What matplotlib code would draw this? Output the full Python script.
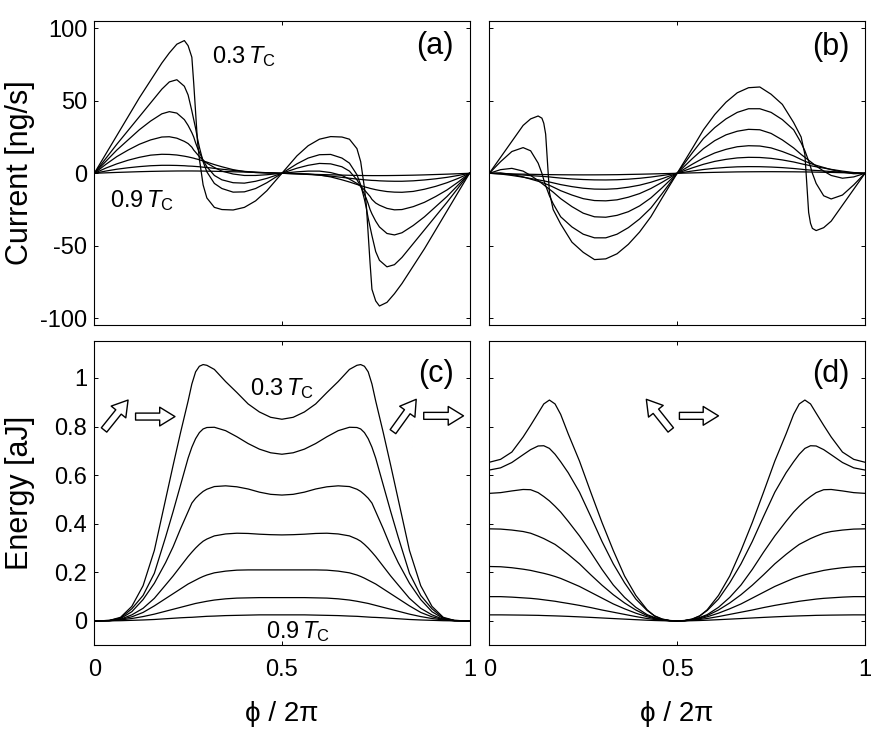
import matplotlib
matplotlib.use('Agg')
import matplotlib.pyplot as plt

# ---------------- data ----------------
# temperatures of the 7 curves in every panel (T / Tc)
temps = [0.3, 0.4, 0.5, 0.6, 0.7, 0.8, 0.9]

# (a) current, first set
phi_a = [0, .03, .06, .09, .12, .15, .18, .2, .22, .24, .25, .26, .265, .27, .275, .28, .29, .3, .32, .34, .37, .4, .43, .46, .5,
         .54, .57, .6, .63, .66, .68, .7, .71, .72, .725, .73, .735, .74, .75, .76, .78, .8, .82, .85, .88, .91, .94, .97, 1]
cur_a_03 = [0, 13, 26, 39, 52, 64, 76, 83, 89, 91.5, 88, 80, 62, 42, 22, 10, -8, -17, -23.5, -25, -25.3, -23.5, -19, -12, 0,
            12, 19, 23.5, 25.3, 25, 23.5, 17, 8, -10, -22, -42, -62, -80, -88, -91.5, -89, -83, -76, -64, -52, -39, -26, -13, 0]
cur_a_04 = [0, 10, 20, 29.5, 39, 48.5, 58, 63, 64.5, 60, 54, 43, 37, 31, 24, 18, 8, 1, -7, -10.5, -13, -12.8, -10.5, -6.5, 0,
            6.5, 10.5, 12.8, 13, 10.5, 7, -1, -8, -18, -24, -31, -37, -43, -54, -60, -64.5, -63, -58, -48.5, -39, -29.5, -20, -10, 0]
cur_a_05 = [0, 8, 16, 23, 30, 36, 41, 42.5, 41.5, 37, 33, 28, 25, 21, 17.5, 14.5, 9, 4.5, -1.5, -4.5, -6.5, -6.8, -5.5, -3.5, 0,
            3.5, 5.5, 6.8, 6.5, 4.5, 1.5, -4.5, -9, -14.5, -17.5, -21, -25, -28, -33, -37, -41.5, -42.5, -41, -36, -30, -23, -16, -8, 0]
cur_a_06 = [0, 6, 11.5, 16, 20, 23, 25, 25.2, 24.2, 22, 20.5, 18, 16, 14.5, 13, 11.5, 9, 7, 4, 1.5, -0.5, -1.5, -1.5, -1, 0,
            1, 1.5, 1.5, 0.5, -1.5, -4, -7, -9, -11.5, -13, -14.5, -16, -18, -20.5, -22, -24.2, -25.2, -25, -23, -20, -16, -11.5, -6, 0]
cur_a_07 = [0, 3.5, 6.5, 9, 11, 12.5, 13.1, 13, 12.6, 11.8, 11.3, 10.7, 10.4, 10, 9.7, 9.3, 8.5, 7.7, 6, 4.5, 2.5, 1.2, 0.5, 0.2, 0,
            -0.2, -0.5, -1.2, -2.5, -4.5, -6, -7.7, -8.5, -9.3, -9.7, -10, -10.4, -10.7, -11.3, -11.8, -12.6, -13, -13.1, -12.5, -11, -9, -6.5, -3.5, 0]
cur_a_08 = [0, 1.5, 2.8, 3.8, 4.6, 5.2, 5.5, 5.5, 5.4, 5.2, 5.0, 4.9, 4.8, 4.7, 4.6, 4.5, 4.2, 4.0, 3.4, 2.8, 2.0, 1.3, 0.8, 0.4, 0,
            -0.4, -0.8, -1.3, -2.0, -2.8, -3.4, -4.0, -4.2, -4.5, -4.6, -4.7, -4.8, -4.9, -5.0, -5.2, -5.4, -5.5, -5.5, -5.2, -4.6, -3.8, -2.8, -1.5, 0]
cur_a_09 = [0, 0.3, 0.6, 0.85, 1.1, 1.3, 1.45, 1.52, 1.58, 1.6, 1.6, 1.6, 1.59, 1.58, 1.57, 1.55, 1.52, 1.48, 1.38, 1.25, 1.05, 0.85, 0.6, 0.35, 0,
            -0.35, -0.6, -0.85, -1.05, -1.25, -1.38, -1.48, -1.52, -1.55, -1.57, -1.58, -1.59, -1.6, -1.6, -1.6, -1.58, -1.52, -1.45, -1.3, -1.1, -0.85, -0.6, -0.3, 0]

# (b) current, second set
phi_b = [0, .03, .06, .09, .11, .13, .14, .145, .15, .155, .16, .17, .19, .22, .25, .28, .31, .34, .37, .4, .43, .46, .5,
         .54, .57, .6, .63, .66, .69, .72, .75, .78, .81, .83, .84, .845, .85, .855, .86, .87, .89, .91, .94, .97, 1]
cur_b_03 = [0, 11, 22, 33, 37.5, 39.5, 38, 34.5, 27, 7, -13, -25, -35, -47.5, -54.5, -59.5, -59, -55.5, -49, -40.5, -30, -17, 0,
            17, 30, 40.5, 49, 55.5, 59, 59.5, 54.5, 47.5, 35, 25, 13, -7, -27, -34.5, -38, -39.5, -37.5, -33, -22, -11, 0]
cur_b_04 = [0, 8, 15, 17.7, 15.5, 7, 0, -4.5, -8.5, -12, -15.5, -21, -30, -37, -42, -44.5, -44.5, -42, -37.5, -31.5, -24, -14, 0,
            14, 24, 31.5, 37.5, 42, 44.5, 44.5, 42, 37, 30, 21, 15.5, 12, 8.5, 4.5, 0, -7, -15.5, -17.7, -15, -8, 0]
cur_b_05 = [0, 2.5, 3.4, 1.5, -1.5, -5, -7, -8, -9, -10, -11, -13, -17.5, -23, -27.5, -30, -30.3, -29, -26.5, -22.5, -17, -10, 0,
            10, 17, 22.5, 26.5, 29, 30.3, 30, 27.5, 23, 17.5, 13, 11, 10, 9, 8, 7, 5, 1.5, -1.5, -3.4, -2.5, 0]
cur_b_06 = [0, 0.3, -0.8, -2.5, -4, -5.5, -6.3, -6.8, -7.3, -7.8, -8.3, -9.5, -12, -15, -17.5, -18.8, -19, -18.3, -16.5, -14, -10.5, -6.2, 0,
            6.2, 10.5, 14, 16.5, 18.3, 19, 18.8, 17.5, 15, 12, 9.5, 8.3, 7.8, 7.3, 6.8, 6.3, 5.5, 4, 2.5, 0.8, -0.3, 0]
cur_b_07 = [0, -0.5, -1.5, -2.7, -3.6, -4.5, -5, -5.2, -5.5, -5.8, -6, -6.6, -7.8, -9.2, -10.3, -10.9, -11, -10.6, -9.6, -8.2, -6.2, -3.7, 0,
            3.7, 6.2, 8.2, 9.6, 10.6, 11, 10.9, 10.3, 9.2, 7.8, 6.6, 6, 5.8, 5.5, 5.2, 5, 4.5, 3.6, 2.7, 1.5, 0.5, 0]
cur_b_08 = [0, -0.3, -0.8, -1.2, -1.6, -1.95, -2.1, -2.2, -2.3, -2.4, -2.5, -2.8, -3.3, -3.9, -4.3, -4.55, -4.6, -4.45, -4.05, -3.45, -2.6, -1.55, 0,
            1.55, 2.6, 3.45, 4.05, 4.45, 4.6, 4.55, 4.3, 3.9, 3.3, 2.8, 2.5, 2.4, 2.3, 2.2, 2.1, 1.95, 1.6, 1.2, 0.8, 0.3, 0]
cur_b_09 = [0, -0.2, -0.4, -0.6, -0.7, -0.8, -0.85, -0.87, -0.89, -0.91, -0.93, -0.96, -1.02, -1.07, -1.1, -1.08, -1.03, -0.96, -0.8, -0.65, -0.47, -0.27, 0,
            0.27, 0.47, 0.65, 0.8, 0.96, 1.03, 1.08, 1.1, 1.07, 1.02, 0.96, 0.93, 0.91, 0.89, 0.87, 0.85, 0.8, 0.7, 0.6, 0.4, 0.2, 0]

# (c) energy, first set
phi_c = [0, .04, .07, .1, .13, .16, .19, .21, .23, .25, .26, .27, .28, .29, .3, .32, .35, .38, .41, .44, .47, .5,
         .53, .56, .59, .62, .65, .68, .7, .71, .72, .73, .74, .75, .77, .79, .81, .84, .87, .9, .93, .96, 1]
en_c_03 = [0, 0.002, 0.015, 0.06, 0.145, 0.29, 0.5, 0.64, 0.776, 0.905, 0.975, 1.025, 1.048, 1.055, 1.052, 1.035, 0.985, 0.94, 0.893, 0.86, 0.838, 0.83,
           0.838, 0.86, 0.893, 0.94, 0.985, 1.035, 1.052, 1.055, 1.048, 1.025, 0.975, 0.905, 0.776, 0.64, 0.5, 0.29, 0.145, 0.06, 0.015, 0.002, 0]
en_c_04 = [0, 0.002, 0.012, 0.05, 0.105, 0.196, 0.345, 0.45, 0.56, 0.67, 0.715, 0.75, 0.775, 0.79, 0.796, 0.797, 0.783, 0.758, 0.73, 0.707, 0.692, 0.686,
           0.692, 0.707, 0.73, 0.758, 0.783, 0.797, 0.796, 0.79, 0.775, 0.75, 0.715, 0.67, 0.56, 0.45, 0.345, 0.196, 0.105, 0.05, 0.012, 0.002, 0]
en_c_05 = [0, 0.002, 0.01, 0.038, 0.088, 0.155, 0.24, 0.305, 0.38, 0.45, 0.485, 0.505, 0.52, 0.533, 0.542, 0.553, 0.556, 0.552, 0.543, 0.53, 0.521, 0.518,
           0.521, 0.53, 0.543, 0.552, 0.556, 0.553, 0.542, 0.533, 0.52, 0.505, 0.485, 0.45, 0.38, 0.305, 0.24, 0.155, 0.088, 0.038, 0.01, 0.002, 0]
en_c_06 = [0, 0.001, 0.007, 0.025, 0.052, 0.093, 0.148, 0.185, 0.225, 0.265, 0.283, 0.3, 0.315, 0.328, 0.337, 0.35, 0.358, 0.361, 0.36, 0.357, 0.355, 0.354,
           0.355, 0.357, 0.36, 0.361, 0.358, 0.35, 0.337, 0.328, 0.315, 0.3, 0.283, 0.265, 0.225, 0.185, 0.148, 0.093, 0.052, 0.025, 0.007, 0.001, 0]
en_c_07 = [0, 0.001, 0.006, 0.017, 0.035, 0.062, 0.092, 0.112, 0.132, 0.152, 0.16, 0.168, 0.176, 0.183, 0.189, 0.198, 0.205, 0.209, 0.21, 0.21, 0.21, 0.21,
           0.21, 0.21, 0.21, 0.209, 0.205, 0.198, 0.189, 0.183, 0.176, 0.168, 0.16, 0.152, 0.132, 0.112, 0.092, 0.062, 0.035, 0.017, 0.006, 0.001, 0]
en_c_08 = [0, 0.001, 0.004, 0.01, 0.018, 0.028, 0.04, 0.048, 0.056, 0.064, 0.068, 0.072, 0.075, 0.078, 0.081, 0.086, 0.091, 0.094, 0.095, 0.096, 0.096, 0.096,
           0.096, 0.096, 0.095, 0.094, 0.091, 0.086, 0.081, 0.078, 0.075, 0.072, 0.068, 0.064, 0.056, 0.048, 0.04, 0.028, 0.018, 0.01, 0.004, 0.001, 0]
en_c_09 = [0, 0.0004, 0.001, 0.0025, 0.004, 0.006, 0.009, 0.011, 0.013, 0.0145, 0.015, 0.016, 0.017, 0.018, 0.019, 0.02, 0.022, 0.023, 0.024, 0.025, 0.025, 0.025,
           0.025, 0.025, 0.024, 0.023, 0.022, 0.02, 0.019, 0.018, 0.017, 0.016, 0.015, 0.0145, 0.013, 0.011, 0.009, 0.006, 0.004, 0.0025, 0.001, 0.0004, 0]

# (d) energy, second set
phi_d = [0, .03, .06, .09, .11, .13, .145, .16, .175, .19, .21, .24, .27, .3, .33, .36, .39, .42, .44, .46, .48, .5,
         .52, .54, .56, .58, .61, .64, .67, .7, .73, .76, .79, .81, .825, .84, .855, .87, .89, .91, .94, .97, 1]
en_d_03 = [0.653, 0.665, 0.695, 0.757, 0.805, 0.855, 0.893, 0.909, 0.893, 0.85, 0.77, 0.658, 0.53, 0.405, 0.29, 0.185, 0.105, 0.046, 0.02, 0.007, 0.001, 0,
           0.001, 0.007, 0.02, 0.046, 0.105, 0.185, 0.29, 0.405, 0.53, 0.658, 0.77, 0.85, 0.893, 0.909, 0.893, 0.855, 0.805, 0.757, 0.695, 0.665, 0.653]
en_d_04 = [0.621, 0.63, 0.652, 0.684, 0.705, 0.72, 0.721, 0.71, 0.686, 0.655, 0.61, 0.53, 0.43, 0.327, 0.235, 0.157, 0.09, 0.043, 0.021, 0.008, 0.002, 0,
           0.002, 0.008, 0.021, 0.043, 0.09, 0.157, 0.235, 0.327, 0.43, 0.53, 0.61, 0.655, 0.686, 0.71, 0.721, 0.72, 0.705, 0.684, 0.652, 0.63, 0.621]
en_d_05 = [0.525, 0.528, 0.535, 0.541, 0.54, 0.528, 0.512, 0.494, 0.472, 0.448, 0.41, 0.35, 0.283, 0.212, 0.148, 0.097, 0.056, 0.026, 0.014, 0.006, 0.0015, 0,
           0.0015, 0.006, 0.014, 0.026, 0.056, 0.097, 0.148, 0.212, 0.283, 0.35, 0.41, 0.448, 0.472, 0.494, 0.512, 0.528, 0.54, 0.541, 0.535, 0.528, 0.525]
en_d_06 = [0.379, 0.378, 0.374, 0.368, 0.361, 0.349, 0.339, 0.327, 0.315, 0.298, 0.274, 0.235, 0.19, 0.147, 0.108, 0.074, 0.045, 0.022, 0.012, 0.005, 0.0012, 0,
           0.0012, 0.005, 0.012, 0.022, 0.045, 0.074, 0.108, 0.147, 0.19, 0.235, 0.274, 0.298, 0.315, 0.327, 0.339, 0.349, 0.361, 0.368, 0.374, 0.378, 0.379]
en_d_07 = [0.224, 0.223, 0.219, 0.213, 0.208, 0.201, 0.196, 0.19, 0.183, 0.175, 0.162, 0.142, 0.118, 0.094, 0.07, 0.05, 0.032, 0.017, 0.009, 0.004, 0.001, 0,
           0.001, 0.004, 0.009, 0.017, 0.032, 0.05, 0.07, 0.094, 0.118, 0.142, 0.162, 0.175, 0.183, 0.19, 0.196, 0.201, 0.208, 0.213, 0.219, 0.223, 0.224]
en_d_08 = [0.1, 0.1, 0.098, 0.095, 0.093, 0.09, 0.087, 0.084, 0.081, 0.077, 0.072, 0.064, 0.055, 0.045, 0.036, 0.027, 0.018, 0.01, 0.006, 0.003, 0.001, 0,
           0.001, 0.003, 0.006, 0.01, 0.018, 0.027, 0.036, 0.045, 0.055, 0.064, 0.072, 0.077, 0.081, 0.084, 0.087, 0.09, 0.093, 0.095, 0.098, 0.1, 0.1]
en_d_09 = [0.025, 0.025, 0.0245, 0.024, 0.0235, 0.023, 0.0222, 0.0215, 0.0208, 0.02, 0.0188, 0.0168, 0.0146, 0.0122, 0.0098, 0.0075, 0.0052, 0.003, 0.0018, 0.0009, 0.0002, 0,
           0.0002, 0.0009, 0.0018, 0.003, 0.0052, 0.0075, 0.0098, 0.0122, 0.0146, 0.0168, 0.0188, 0.02, 0.0208, 0.0215, 0.0222, 0.023, 0.0235, 0.024, 0.0245, 0.025, 0.025]

curves_a = [cur_a_03, cur_a_04, cur_a_05, cur_a_06, cur_a_07, cur_a_08, cur_a_09]
curves_b = [cur_b_03, cur_b_04, cur_b_05, cur_b_06, cur_b_07, cur_b_08, cur_b_09]
curves_c = [en_c_03, en_c_04, en_c_05, en_c_06, en_c_07, en_c_08, en_c_09]
curves_d = [en_d_03, en_d_04, en_d_05, en_d_06, en_d_07, en_d_08, en_d_09]

# ---------------- style ----------------
plt.rcParams['font.family'] = ['Liberation Sans', 'DejaVu Sans']
plt.rcParams['mathtext.fontset'] = 'custom'
plt.rcParams['mathtext.rm'] = 'Liberation Sans'
plt.rcParams['mathtext.it'] = 'Liberation Sans:italic'
plt.rcParams['axes.unicode_minus'] = False

W, H = 879, 740
fig = plt.figure(figsize=(W / 100, H / 100), dpi=100)


def box(left, top, right, bottom):
    # pixel box -> figure fraction
    return [left / W, 1 - bottom / H, (right - left) / W, (bottom - top) / H]


ax_a = fig.add_axes(box(94.3, 20.7, 469.5, 325))
ax_b = fig.add_axes(box(489.3, 20.7, 865, 325))
ax_c = fig.add_axes(box(94.3, 341, 469.5, 645))
ax_d = fig.add_axes(box(489.3, 341, 865, 645))

for ax, xs, curves in [(ax_a, phi_a, curves_a), (ax_b, phi_b, curves_b),
                       (ax_c, phi_c, curves_c), (ax_d, phi_d, curves_d)]:
    for ys in curves:
        ax.plot(xs, ys, color='black', lw=0.9)
    ax.set_xlim(0, 1)
    ax.set_xticks([0, 0.5, 1])
    for s in ax.spines.values():
        s.set_linewidth(0.8)
    ax.tick_params(direction='in', top=True, right=True, length=3.2, width=0.7,
                   labelsize=17)
    ax.tick_params(axis='x', pad=10)
    ax.tick_params(axis='y', pad=5)

for ax in (ax_a, ax_b):
    ax.set_ylim(-104.6, 105.2)
    ax.set_yticks([-100, -50, 0, 50, 100])
    ax.tick_params(labelbottom=False)
ax_b.tick_params(labelleft=False)

for ax in (ax_c, ax_d):
    ax.set_ylim(-0.099, 1.152)
    ax.set_yticks([0, 0.2, 0.4, 0.6, 0.8, 1])
    ax.set_xticklabels(['0', '0.5', '1'])
ax_c.set_yticklabels(['0', '0.2', '0.4', '0.6', '0.8', '1'])
ax_d.tick_params(labelleft=False)

# panel letters
for ax, lab, yy in [(ax_a, '(a)', 0.917), (ax_b, '(b)', 0.912),
                    (ax_c, '(c)', 0.893), (ax_d, '(d)', 0.89)]:
    ax.text(0.958, yy, lab, transform=ax.transAxes, ha='right', va='center',
            fontsize=22)

# temperature labels
ax_a.text(0.313, 75.9, r'0.3$\,T_{\rm C}$', fontsize=17, ha='left', va='baseline')
ax_a.text(0.042, -23.2, r'0.9$\,T_{\rm C}$', fontsize=17, ha='left', va='baseline')
ax_c.text(0.414, 0.93, r'0.3$\,T_{\rm C}$', fontsize=17, ha='left', va='baseline')
ax_c.text(0.457, -0.07, r'0.9$\,T_{\rm C}$', fontsize=17, ha='left', va='baseline')

# hollow block arrows
arrow_style = dict(arrowstyle='simple,head_length=1.1,head_width=1.35,tail_width=0.5',
                   fc='white', ec='black', lw=1.0, shrinkA=0, shrinkB=0,
                   mutation_scale=10)
for ax, tail, head in [(ax_c, (0.026, 0.786), (0.090, 0.909)),
                       (ax_c, (0.110, 0.841), (0.215, 0.841)),
                       (ax_c, (0.796, 0.779), (0.858, 0.912)),
                       (ax_c, (0.878, 0.844), (0.984, 0.844)),
                       (ax_d, (0.483, 0.786), (0.418, 0.912)),
                       (ax_d, (0.506, 0.844), (0.610, 0.844))]:
    ax.annotate('', xy=head, xytext=tail, arrowprops=arrow_style)

# axis titles
fig.text(20 / W, 1 - 173 / H, 'Current [ng/s]', rotation=90, ha='center',
         va='center', fontsize=22)
fig.text(20 / W, 1 - 493 / H, 'Energy [aJ]', rotation=90, ha='center',
         va='center', fontsize=22)
fig.text(282 / W, 1 - 714 / H, 'ϕ / 2π', ha='center', va='center', fontsize=20)
fig.text(677 / W, 1 - 714 / H, 'ϕ / 2π', ha='center', va='center', fontsize=20)

fig.savefig('out.png', dpi=100)
